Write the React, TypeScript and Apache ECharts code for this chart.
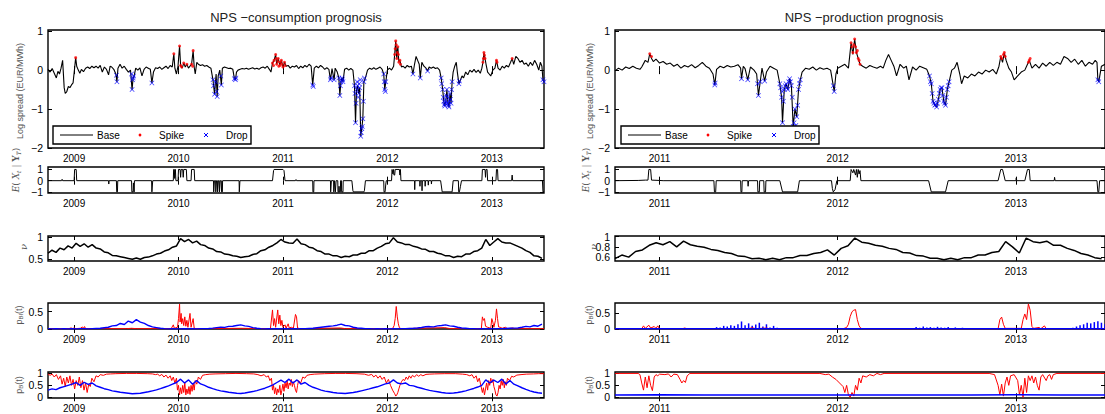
import { useEffect, useRef } from "react";
import * as echarts from "echarts";

// ---------------- NPS – consumption prognosis (left column) ----------------
const consYears = [2009, 2010, 2011, 2012, 2013];

// log spread, base regime path [year, value]
const consBase = [
  [2008.75, 0.02], [2008.77, -0.05], [2008.79, 0.04], [2008.81, -0.08], [2008.83, -0.2], [2008.845, -0.03],
  [2008.86, -0.1], [2008.875, 0.05], [2008.89, 0.25], [2008.905, -0.45], [2008.915, -0.6], [2008.93, -0.55],
  [2008.945, -0.42], [2008.96, -0.45], [2008.975, -0.38], [2008.99, -0.33], [2009.005, 0.05], [2009.015, 0.32],
  [2009.025, 0.1], [2009.04, 0.0], [2009.055, -0.08], [2009.07, 0.02], [2009.09, -0.04], [2009.11, 0.05],
  [2009.13, 0.08], [2009.15, 0.04], [2009.17, 0.1], [2009.19, 0.06], [2009.21, 0.1], [2009.23, 0.05],
  [2009.25, 0.12], [2009.27, -0.05], [2009.29, 0.08], [2009.31, 0.02], [2009.33, -0.12], [2009.345, 0.1],
  [2009.36, 0.08], [2009.38, 0.02], [2009.4, -0.1], [2009.41, -0.3], [2009.42, 0.05], [2009.44, 0.15],
  [2009.46, 0.05], [2009.48, 0.1], [2009.5, 0.02], [2009.52, -0.05], [2009.54, 0.0], [2009.555, -0.5],
  [2009.565, -0.2], [2009.575, -0.15], [2009.59, 0.05], [2009.61, 0.0], [2009.63, 0.06], [2009.65, -0.15],
  [2009.67, 0.02], [2009.69, 0.08], [2009.71, 0.05], [2009.73, 0.02], [2009.745, -0.33], [2009.76, -0.05],
  [2009.78, 0.06], [2009.8, 0.04], [2009.82, 0.08], [2009.84, 0.02], [2009.86, 0.06], [2009.88, 0.1],
  [2009.9, 0.04], [2009.92, 0.12], [2009.94, 0.08], [2009.955, 0.42], [2009.965, 0.05], [2009.98, -0.1],
  [2009.995, 0.1], [2010.01, 0.62], [2010.02, 0.12], [2010.035, 0.05], [2010.05, 0.18], [2010.065, 0.08],
  [2010.08, 0.15], [2010.095, 0.05], [2010.11, 0.1], [2010.125, 0.15], [2010.14, 0.5], [2010.15, 0.08],
  [2010.16, -0.1], [2010.175, 0.2], [2010.19, 0.15], [2010.21, 0.12], [2010.23, 0.14], [2010.25, 0.1],
  [2010.27, 0.12], [2010.29, 0.08], [2010.31, 0.05], [2010.33, -0.25], [2010.345, -0.62], [2010.36, -0.1],
  [2010.37, -0.68], [2010.38, -0.15], [2010.395, 0.0], [2010.41, -0.38], [2010.42, 0.05], [2010.44, 0.08],
  [2010.46, 0.06], [2010.48, 0.04], [2010.5, 0.05], [2010.52, 0.02], [2010.535, -0.22], [2010.545, -0.25],
  [2010.555, -0.05], [2010.57, 0.0], [2010.59, 0.02], [2010.61, 0.04], [2010.63, 0.03], [2010.65, 0.05],
  [2010.67, 0.02], [2010.69, 0.04], [2010.71, 0.06], [2010.73, 0.03], [2010.75, 0.05], [2010.77, 0.02],
  [2010.79, 0.06], [2010.81, 0.08], [2010.83, 0.05], [2010.85, 0.1], [2010.87, 0.02], [2010.885, -0.05],
  [2010.9, 0.18], [2010.915, 0.25], [2010.93, 0.4], [2010.94, 0.15], [2010.955, 0.3], [2010.97, 0.12],
  [2010.985, 0.25], [2011.0, 0.08], [2011.015, 0.2], [2011.03, 0.1], [2011.05, 0.12], [2011.07, 0.05],
  [2011.09, 0.1], [2011.11, 0.08], [2011.13, 0.12], [2011.15, 0.04], [2011.17, 0.1], [2011.19, 0.06],
  [2011.21, 0.12], [2011.23, 0.08], [2011.25, 0.15], [2011.27, 0.1], [2011.285, -0.38], [2011.3, 0.05],
  [2011.32, 0.1], [2011.34, 0.06], [2011.36, 0.12], [2011.38, 0.08], [2011.4, 0.02], [2011.42, 0.06],
  [2011.44, 0.02], [2011.455, -0.25], [2011.47, 0.04], [2011.49, -0.25], [2011.5, 0.05], [2011.52, -0.05],
  [2011.535, -0.2], [2011.545, -0.65], [2011.555, -0.3], [2011.565, -0.2], [2011.575, -0.3], [2011.59, 0.02],
  [2011.61, 0.05], [2011.63, 0.0], [2011.65, 0.04], [2011.67, 0.0], [2011.685, -0.4], [2011.695, -1.35],
  [2011.705, -0.5], [2011.715, -0.4], [2011.725, -0.6], [2011.735, -0.45], [2011.745, -1.7], [2011.755, -1.5],
  [2011.765, -1.25], [2011.775, -0.3], [2011.79, -0.2], [2011.81, 0.0], [2011.83, 0.05], [2011.85, 0.02],
  [2011.87, 0.06], [2011.89, 0.02], [2011.91, 0.05], [2011.93, 0.08], [2011.95, 0.02], [2011.965, -0.1],
  [2011.975, -0.5], [2011.985, -0.3], [2012.0, 0.0], [2012.02, 0.05], [2012.04, 0.0], [2012.06, 0.1],
  [2012.07, 0.4], [2012.08, 0.75], [2012.09, 0.3], [2012.1, 0.6], [2012.11, 0.2], [2012.12, 0.25],
  [2012.135, 0.08], [2012.15, 0.1], [2012.17, 0.05], [2012.19, 0.12], [2012.21, 0.08], [2012.23, 0.1],
  [2012.245, -0.1], [2012.26, 0.15], [2012.275, 0.35], [2012.29, 0.25], [2012.305, 0.15], [2012.315, -0.2],
  [2012.33, 0.2], [2012.35, 0.1], [2012.37, 0.05], [2012.385, -0.02], [2012.4, 0.08], [2012.42, 0.05],
  [2012.44, 0.08], [2012.46, 0.04], [2012.48, 0.06], [2012.5, 0.0], [2012.515, -0.2], [2012.53, -0.5],
  [2012.54, -0.8], [2012.55, -0.92], [2012.56, -0.8], [2012.57, -0.5], [2012.58, -0.85], [2012.59, -0.95],
  [2012.6, -0.6], [2012.61, -0.85], [2012.62, -0.3], [2012.63, -0.05], [2012.645, 0.1], [2012.66, 0.2],
  [2012.67, -0.05], [2012.685, -0.35], [2012.7, -0.25], [2012.715, -0.15], [2012.73, -0.2], [2012.75, -0.05],
  [2012.77, -0.12], [2012.79, 0.0], [2012.81, -0.05], [2012.83, 0.02], [2012.85, -0.06], [2012.87, 0.0],
  [2012.89, -0.08], [2012.905, 0.05], [2012.915, 0.2], [2012.925, 0.45], [2012.935, 0.3], [2012.945, 0.15],
  [2012.96, -0.05], [2012.975, -0.1], [2012.99, -0.15], [2013.01, 0.0], [2013.03, 0.05], [2013.045, 0.25],
  [2013.06, 0.05], [2013.08, 0.0], [2013.1, 0.1], [2013.12, 0.05], [2013.14, 0.12], [2013.16, 0.08],
  [2013.18, 0.2], [2013.195, 0.3], [2013.21, 0.15], [2013.23, 0.35], [2013.25, 0.3], [2013.27, 0.2],
  [2013.29, 0.25], [2013.31, 0.15], [2013.33, 0.18], [2013.35, 0.1], [2013.37, 0.2], [2013.39, 0.12],
  [2013.41, 0.25], [2013.43, 0.15], [2013.45, 0.0], [2013.465, 0.2], [2013.48, 0.1], [2013.49, -0.25],
  [2013.5, -0.3],
];

const consSpikes = [
  [2009.015, 0.32], [2009.955, 0.42], [2010.01, 0.62], [2010.02, 0.12], [2010.03, 0.08], [2010.05, 0.18],
  [2010.08, 0.15], [2010.125, 0.15], [2010.135, 0.1], [2010.14, 0.5], [2010.9, 0.18], [2010.91, 0.12],
  [2010.915, 0.25], [2010.93, 0.4], [2010.935, 0.3], [2010.94, 0.15], [2010.95, 0.22], [2010.955, 0.3],
  [2010.96, 0.1], [2010.97, 0.12], [2010.975, 0.2], [2010.985, 0.25], [2010.99, 0.15], [2011.0, 0.08],
  [2011.015, 0.2], [2011.02, 0.12], [2012.07, 0.4], [2012.075, 0.55], [2012.08, 0.75], [2012.085, 0.65],
  [2012.09, 0.3], [2012.095, 0.45], [2012.1, 0.6], [2012.105, 0.4], [2012.11, 0.2], [2012.12, 0.25],
  [2012.125, 0.15], [2012.915, 0.2], [2012.92, 0.3], [2012.925, 0.45], [2012.93, 0.38], [2012.935, 0.3],
  [2013.045, 0.25], [2013.05, 0.2], [2013.195, 0.3],
];

const consDrops = [
  [2009.405, -0.13], [2009.41, -0.3], [2009.55, -0.1], [2009.555, -0.5], [2009.56, -0.25], [2009.565, -0.2],
  [2009.57, -0.15], [2009.745, -0.33], [2010.33, -0.25], [2010.335, -0.4], [2010.345, -0.62], [2010.355, -0.3],
  [2010.365, -0.55], [2010.37, -0.68], [2010.405, -0.15], [2010.41, -0.38], [2010.535, -0.22], [2010.545, -0.25],
  [2010.55, -0.2], [2011.285, -0.38], [2011.29, -0.42], [2011.455, -0.25], [2011.46, -0.2], [2011.49, -0.25],
  [2011.535, -0.2], [2011.545, -0.65], [2011.55, -0.4], [2011.555, -0.3], [2011.565, -0.2], [2011.57, -0.25],
  [2011.575, -0.3], [2011.685, -0.4], [2011.69, -0.6], [2011.695, -1.35], [2011.7, -0.85], [2011.705, -0.5],
  [2011.71, -0.3], [2011.715, -0.4], [2011.72, -0.7], [2011.725, -0.6], [2011.73, -0.35], [2011.735, -0.45],
  [2011.74, -0.25], [2011.745, -1.7], [2011.75, -1.6], [2011.755, -1.5], [2011.76, -1.45], [2011.765, -1.25],
  [2011.77, -0.8], [2011.775, -0.3], [2011.78, -0.2], [2011.965, -0.1], [2011.97, -0.3], [2011.975, -0.5],
  [2011.98, -0.55], [2011.985, -0.3], [2012.245, -0.1], [2012.315, -0.2], [2012.385, -0.02], [2012.515, -0.2],
  [2012.52, -0.35], [2012.53, -0.5], [2012.535, -0.7], [2012.54, -0.8], [2012.545, -0.88], [2012.55, -0.92],
  [2012.555, -0.85], [2012.56, -0.8], [2012.565, -0.65], [2012.57, -0.5], [2012.575, -0.7], [2012.58, -0.85],
  [2012.585, -0.9], [2012.59, -0.95], [2012.595, -0.8], [2012.6, -0.6], [2012.605, -0.75], [2012.61, -0.85],
  [2012.615, -0.5], [2012.62, -0.3], [2012.685, -0.35], [2012.69, -0.28], [2013.49, -0.25], [2013.5, -0.3],
];

// smoothed regime indicator E(X_t | Y_T)
const consState = [
  [2008.75, 0], [2008.88, 0], [2008.885, 0.12], [2008.89, 0], [2009.0, 0], [2009.005, 1], [2009.02, 1], [2009.025, 0],
  [2009.33, 0], [2009.332, -0.3], [2009.335, 0],
  [2009.405, 0], [2009.408, -1], [2009.415, -1], [2009.418, 0],
  [2009.55, 0], [2009.553, -1], [2009.565, -1], [2009.568, -0.2], [2009.575, -1], [2009.578, 0],
  [2009.742, 0], [2009.745, -1], [2009.75, -1], [2009.753, 0],
  [2009.95, 0], [2009.953, 1], [2009.96, 1], [2009.963, 0.2], [2009.97, 1], [2009.975, 0],
  [2009.995, 0], [2010.0, 1], [2010.015, 1], [2010.02, 0.3], [2010.025, 1], [2010.04, 1], [2010.045, 0.3],
  [2010.05, 1], [2010.075, 1], [2010.08, 0],
  [2010.12, 0], [2010.125, 1], [2010.15, 1], [2010.155, 0],
  [2010.335, 0], [2010.337, -1], [2010.342, -1], [2010.344, 0],
  [2010.355, 0], [2010.357, -1], [2010.362, -1], [2010.364, 0],
  [2010.372, 0], [2010.374, -1], [2010.38, -1], [2010.382, 0],
  [2010.39, 0], [2010.392, -1], [2010.398, -1], [2010.4, 0],
  [2010.41, 0], [2010.412, -1], [2010.42, -1], [2010.422, 0],
  [2010.58, 0], [2010.582, -1], [2010.586, -1], [2010.588, 0],
  [2010.9, 0], [2010.91, 0.9], [2010.915, 1], [2011.0, 1], [2011.01, 0.9], [2011.02, 0],
  [2011.12, 0], [2011.125, 0.1], [2011.13, 0],
  [2011.285, 0], [2011.287, -1], [2011.295, -1], [2011.297, 0],
  [2011.455, 0], [2011.457, -1], [2011.462, -1], [2011.464, 0],
  [2011.485, 0], [2011.487, -1], [2011.492, -1], [2011.494, 0],
  [2011.5, 0], [2011.502, -1], [2011.507, -1], [2011.509, 0],
  [2011.525, 0], [2011.527, -1], [2011.535, -1], [2011.537, -0.5], [2011.54, -1], [2011.55, -1], [2011.552, 0],
  [2011.56, 0], [2011.562, -1], [2011.575, -1], [2011.577, 0],
  [2011.66, 0], [2011.67, -0.9], [2011.675, -1], [2011.775, -1], [2011.78, -0.9], [2011.79, 0],
  [2011.965, 0], [2011.968, -1], [2011.978, -1], [2011.985, -0.3], [2011.99, 0],
  [2012.04, 0], [2012.045, 1], [2012.05, 1], [2012.053, 0.6], [2012.06, 1], [2012.063, 0.5], [2012.07, 0.5],
  [2012.075, 1], [2012.115, 1], [2012.12, 0.5], [2012.125, 1], [2012.13, 0],
  [2012.26, 0], [2012.262, -0.8], [2012.265, 0],
  [2012.31, 0], [2012.312, -0.5], [2012.315, 0],
  [2012.33, 0], [2012.332, -0.9], [2012.335, 0],
  [2012.36, 0], [2012.362, -0.5], [2012.365, 0],
  [2012.39, 0], [2012.392, -0.4], [2012.395, 0],
  [2012.42, 0], [2012.422, -0.3], [2012.425, 0],
  [2012.51, 0], [2012.525, -1], [2012.62, -1], [2012.63, 0],
  [2012.68, 0], [2012.683, -1], [2012.69, -1], [2012.7, -0.5], [2012.71, 0],
  [2012.905, 0], [2012.91, 1], [2012.935, 1], [2012.94, 0.3], [2012.945, 1], [2012.955, 1], [2012.96, 0],
  [2013.04, 0], [2013.045, 1], [2013.055, 1], [2013.06, 0],
  [2013.19, 0], [2013.195, 0.5], [2013.2, 0],
  [2013.485, 0], [2013.49, -1], [2013.5, -1],
];

// fortnightly samples starting at 2008.75
const consNu = [
  0.63, 0.7, 0.65, 0.75, 0.71, 0.8,
  0.75, 0.86, 0.79, 0.85, 0.77, 0.83, 0.75,
  0.73, 0.66, 0.64, 0.58, 0.57, 0.55, 0.53,
  0.51, 0.49, 0.52, 0.49, 0.53, 0.54,
  0.57, 0.61, 0.63, 0.68, 0.71, 0.77, 0.8,
  0.97, 0.9, 0.95, 0.87, 0.91, 0.83,
  0.81, 0.75, 0.73, 0.67, 0.66, 0.61, 0.6,
  0.57, 0.56, 0.53, 0.55, 0.56, 0.6,
  0.62, 0.69, 0.71, 0.77, 0.81, 0.87, 0.95,
  0.89, 0.87, 0.86, 0.96, 0.85, 0.83,
  0.77, 0.75, 0.69, 0.67, 0.61, 0.61, 0.57,
  0.57, 0.53, 0.56, 0.55, 0.59, 0.59,
  0.63, 0.63, 0.69, 0.69, 0.75, 0.79, 0.85,
  0.87, 0.99, 0.89, 0.87, 0.83, 0.83,
  0.79, 0.77, 0.73, 0.72, 0.67, 0.67, 0.63,
  0.61, 0.57, 0.57, 0.53, 0.56, 0.55,
  0.61, 0.61, 0.67, 0.69, 0.75, 0.95, 0.81,
  0.89, 0.97, 0.89, 0.87, 0.87, 0.83,
  0.79, 0.75, 0.69, 0.65, 0.57, 0.56, 0.51,
];

// p_BI(t): spike probability (red) [year, value]
const consProbSpike = [
  [2008.75, 0.01], [2008.95, 0.01], [2008.97, 0.03], [2008.99, 0.01], [2009.0, 0.04], [2009.01, 0.01],
  [2009.06, 0.02], [2009.08, 0.06], [2009.09, 0.02], [2009.1, 0.07], [2009.11, 0.01], [2009.5, 0.01],
  [2009.55, 0.02], [2009.6, 0.01], [2009.93, 0.01], [2009.95, 0.12], [2009.96, 0.02], [2009.99, 0.05],
  [2010.0, 0.3], [2010.01, 0.72], [2010.015, 0.2], [2010.025, 0.45], [2010.03, 0.15], [2010.04, 0.3],
  [2010.05, 0.1], [2010.06, 0.35], [2010.07, 0.08], [2010.08, 0.25], [2010.09, 0.05], [2010.11, 0.45],
  [2010.12, 0.05], [2010.14, 0.3], [2010.15, 0.02], [2010.17, 0.01], [2010.6, 0.02], [2010.88, 0.01],
  [2010.9, 0.55], [2010.91, 0.1], [2010.92, 0.3], [2010.93, 0.05], [2010.95, 0.55], [2010.96, 0.15],
  [2010.97, 0.4], [2010.98, 0.1], [2010.99, 0.25], [2011.0, 0.05], [2011.02, 0.12], [2011.03, 0.02],
  [2011.05, 0.15], [2011.06, 0.03], [2011.08, 0.05], [2011.1, 0.02], [2011.12, 0.42], [2011.13, 0.35],
  [2011.14, 0.03], [2011.16, 0.01], [2011.55, 0.03], [2011.6, 0.01], [2012.05, 0.01], [2012.065, 0.1],
  [2012.075, 0.3], [2012.085, 0.65], [2012.095, 0.35], [2012.105, 0.15], [2012.115, 0.04], [2012.13, 0.01],
  [2012.55, 0.04], [2012.6, 0.01], [2012.9, 0.01], [2012.91, 0.35], [2012.92, 0.25], [2012.93, 0.3],
  [2012.94, 0.08], [2012.96, 0.05], [2012.99, 0.02], [2013.0, 0.3], [2013.01, 0.2], [2013.02, 0.05],
  [2013.035, 0.25], [2013.045, 0.58], [2013.055, 0.3], [2013.065, 0.06], [2013.08, 0.05], [2013.1, 0.02],
  [2013.13, 0.05], [2013.15, 0.01], [2013.2, 0.03], [2013.22, 0.01], [2013.5, 0.01],
];

// p_BI(t): drop probability (blue), fortnightly from 2008.75
const consProbDrop = [
  0.01, 0.005, 0.01, 0.005, 0.01, 0.005,
  0.01, 0.005, 0.01, 0.01, 0.005, 0.01, 0.015,
  0.02, 0.035, 0.05, 0.09, 0.1, 0.16, 0.13,
  0.23, 0.18, 0.27, 0.2, 0.16, 0.1,
  0.06, 0.04, 0.02, 0.01, 0.005, 0.01, 0.005,
  0.005, 0.01, 0.005, 0.01, 0.005, 0.01,
  0.01, 0.015, 0.025, 0.04, 0.055, 0.045, 0.075,
  0.08, 0.1, 0.12, 0.09, 0.075, 0.04,
  0.02, 0.01, 0.005, 0.01, 0.005, 0.01, 0.005,
  0.01, 0.005, 0.01, 0.005, 0.01, 0.01,
  0.015, 0.02, 0.035, 0.05, 0.065, 0.08, 0.09,
  0.11, 0.14, 0.1, 0.09, 0.05, 0.03,
  0.02, 0.01, 0.01, 0.005, 0.01, 0.005, 0.01,
  0.005, 0.01, 0.005, 0.01, 0.01, 0.015,
  0.02, 0.03, 0.045, 0.065, 0.07, 0.06, 0.09,
  0.1, 0.12, 0.09, 0.08, 0.05, 0.03,
  0.02, 0.01, 0.01, 0.005, 0.01, 0.005, 0.01,
  0.005, 0.01, 0.01, 0.015, 0.02, 0.025,
  0.03, 0.05, 0.075, 0.06, 0.1, 0.08, 0.14,
];

// p_B(t): staying in base (red) [year, value]
const consBaseStay = [
  [2008.75, 0.98], [2008.77, 0.92], [2008.79, 0.97], [2008.81, 0.85], [2008.83, 0.95], [2008.85, 0.75],
  [2008.87, 0.9], [2008.885, 0.55], [2008.9, 0.8], [2008.915, 0.45], [2008.93, 0.85], [2008.945, 0.6],
  [2008.96, 0.9], [2008.975, 0.5], [2008.99, 0.75], [2009.005, 0.35], [2009.02, 0.7], [2009.035, 0.5],
  [2009.05, 0.85], [2009.065, 0.4], [2009.08, 0.7], [2009.095, 0.3], [2009.11, 0.6], [2009.125, 0.2],
  [2009.14, 0.55], [2009.155, 0.45], [2009.17, 0.8], [2009.19, 0.65], [2009.21, 0.9], [2009.23, 0.85],
  [2009.25, 0.95], [2009.28, 0.92], [2009.31, 0.97], [2009.35, 0.98], [2009.4, 0.99], [2009.5, 1.0],
  [2009.6, 1.0], [2009.7, 0.99], [2009.75, 0.98], [2009.78, 0.95], [2009.8, 0.97], [2009.82, 0.9],
  [2009.84, 0.96], [2009.86, 0.85], [2009.88, 0.93], [2009.9, 0.8], [2009.92, 0.9], [2009.935, 0.7],
  [2009.95, 0.85], [2009.965, 0.6], [2009.98, 0.8], [2009.99, 0.3], [2010.0, 0.5], [2010.01, 0.1],
  [2010.02, 0.4], [2010.03, 0.15], [2010.04, 0.5], [2010.05, 0.2], [2010.06, 0.6], [2010.07, 0.1],
  [2010.08, 0.35], [2010.09, 0.15], [2010.1, 0.45], [2010.11, 0.12], [2010.12, 0.5], [2010.13, 0.25],
  [2010.14, 0.6], [2010.15, 0.3], [2010.16, 0.7], [2010.175, 0.55], [2010.19, 0.85], [2010.21, 0.75],
  [2010.23, 0.92], [2010.26, 0.95], [2010.3, 0.97], [2010.35, 0.98], [2010.45, 0.99], [2010.55, 1.0],
  [2010.65, 0.99], [2010.72, 0.98], [2010.76, 0.95], [2010.79, 0.9], [2010.82, 0.95], [2010.84, 0.85],
  [2010.86, 0.9], [2010.875, 0.7], [2010.89, 0.8], [2010.9, 0.3], [2010.91, 0.5], [2010.92, 0.15],
  [2010.93, 0.4], [2010.94, 0.1], [2010.95, 0.35], [2010.96, 0.2], [2010.97, 0.5], [2010.98, 0.1],
  [2010.99, 0.3], [2011.0, 0.55], [2011.01, 0.25], [2011.02, 0.6], [2011.03, 0.4], [2011.04, 0.7],
  [2011.05, 0.35], [2011.06, 0.6], [2011.07, 0.5], [2011.08, 0.75], [2011.09, 0.45], [2011.1, 0.65],
  [2011.11, 0.5], [2011.12, 0.3], [2011.13, 0.2], [2011.14, 0.5], [2011.15, 0.7], [2011.17, 0.6],
  [2011.19, 0.85], [2011.21, 0.8], [2011.23, 0.92], [2011.26, 0.95], [2011.3, 0.97], [2011.4, 0.99],
  [2011.5, 1.0], [2011.6, 1.0], [2011.7, 0.99], [2011.78, 0.97], [2011.82, 0.92], [2011.85, 0.96],
  [2011.87, 0.85], [2011.89, 0.93], [2011.91, 0.8], [2011.93, 0.9], [2011.95, 0.75], [2011.97, 0.85],
  [2011.99, 0.6], [2012.01, 0.75], [2012.03, 0.5], [2012.05, 0.3], [2012.07, 0.15], [2012.08, 0.05],
  [2012.09, 0.1], [2012.1, 0.2], [2012.11, 0.35], [2012.12, 0.5], [2012.135, 0.65], [2012.15, 0.75],
  [2012.165, 0.7], [2012.18, 0.85], [2012.195, 0.75], [2012.21, 0.9], [2012.225, 0.8], [2012.24, 0.92],
  [2012.26, 0.85], [2012.28, 0.95], [2012.3, 0.88], [2012.32, 0.95], [2012.34, 0.9], [2012.37, 0.96],
  [2012.4, 0.97], [2012.45, 0.98], [2012.55, 0.99], [2012.65, 0.99], [2012.72, 0.97], [2012.76, 0.95],
  [2012.79, 0.9], [2012.81, 0.95], [2012.83, 0.8], [2012.85, 0.9], [2012.865, 0.65], [2012.88, 0.8],
  [2012.895, 0.5], [2012.91, 0.2], [2012.92, 0.4], [2012.93, 0.1], [2012.94, 0.35], [2012.95, 0.6],
  [2012.96, 0.3], [2012.97, 0.7], [2012.98, 0.5], [2012.99, 0.8], [2013.0, 0.6], [2013.01, 0.75],
  [2013.02, 0.45], [2013.03, 0.3], [2013.04, 0.1], [2013.05, 0.05], [2013.06, 0.2], [2013.07, 0.5],
  [2013.08, 0.35], [2013.09, 0.7], [2013.1, 0.5], [2013.11, 0.75], [2013.12, 0.4], [2013.13, 0.65],
  [2013.14, 0.5], [2013.15, 0.8], [2013.17, 0.7], [2013.19, 0.88], [2013.21, 0.85], [2013.24, 0.93],
  [2013.28, 0.95], [2013.33, 0.97], [2013.4, 0.98], [2013.45, 0.99], [2013.5, 0.99],
];

// p_B(t): return to base (blue), fortnightly from 2008.75
const consBaseReturn = [
  0.3, 0.35, 0.32, 0.4, 0.45, 0.5,
  0.55, 0.62, 0.5, 0.63, 0.54, 0.6, 0.48,
  0.42, 0.36, 0.32, 0.27, 0.24, 0.21, 0.19,
  0.17, 0.15, 0.16, 0.17, 0.2, 0.23,
  0.27, 0.31, 0.36, 0.42, 0.48, 0.55, 0.62,
  0.76, 0.6, 0.73, 0.55, 0.7, 0.56,
  0.5, 0.42, 0.36, 0.31, 0.27, 0.24, 0.21,
  0.19, 0.17, 0.16, 0.18, 0.21, 0.24,
  0.28, 0.33, 0.38, 0.45, 0.52, 0.62, 0.72,
  0.62, 0.76, 0.6, 0.73, 0.55, 0.62,
  0.5, 0.42, 0.36, 0.3, 0.26, 0.23, 0.2,
  0.18, 0.17, 0.16, 0.18, 0.2, 0.23,
  0.27, 0.31, 0.35, 0.4, 0.44, 0.5, 0.56,
  0.6, 0.73, 0.6, 0.56, 0.6, 0.5,
  0.48, 0.42, 0.38, 0.33, 0.29, 0.26, 0.23,
  0.2, 0.18, 0.17, 0.18, 0.2, 0.23,
  0.27, 0.32, 0.37, 0.43, 0.5, 0.73, 0.6,
  0.72, 0.62, 0.76, 0.56, 0.7, 0.55,
  0.48, 0.4, 0.33, 0.27, 0.22, 0.19, 0.17,
];

// ---------------- NPS – production prognosis (right column) ----------------
const prodYears = [2011, 2012, 2013];

const prodBase = [
  [2010.75, -0.02], [2010.77, 0.05], [2010.79, 0.0], [2010.81, 0.08], [2010.83, 0.04], [2010.85, 0.1],
  [2010.87, 0.05], [2010.89, 0.02], [2010.9, 0.08], [2010.92, 0.25], [2010.935, 0.2], [2010.945, 0.42],
  [2010.955, 0.3], [2010.965, 0.22], [2010.98, 0.28], [2011.0, 0.18], [2011.02, 0.22], [2011.04, 0.15],
  [2011.06, 0.18], [2011.08, 0.1], [2011.1, 0.15], [2011.12, 0.05], [2011.14, 0.12], [2011.16, 0.08],
  [2011.18, 0.14], [2011.2, 0.06], [2011.22, 0.12], [2011.24, 0.2], [2011.26, 0.1], [2011.28, 0.05],
  [2011.3, -0.1], [2011.31, -0.38], [2011.32, 0.02], [2011.34, 0.1], [2011.36, 0.06], [2011.38, 0.12],
  [2011.4, 0.08], [2011.42, 0.1], [2011.44, 0.14], [2011.455, 0.05], [2011.46, -0.22], [2011.47, 0.1],
  [2011.48, 0.04], [2011.495, -0.25], [2011.51, 0.08], [2011.53, 0.0], [2011.545, -0.1], [2011.555, -0.65],
  [2011.565, -0.3], [2011.575, 0.05], [2011.59, -0.28], [2011.6, -0.05], [2011.62, 0.1], [2011.64, 0.05],
  [2011.66, 0.0], [2011.675, -0.35], [2011.685, -0.7], [2011.69, -1.35], [2011.7, -0.5], [2011.71, -0.35],
  [2011.72, -0.5], [2011.73, -0.22], [2011.74, -0.4], [2011.75, -1.45], [2011.76, -1.0], [2011.77, -1.2],
  [2011.78, -0.5], [2011.79, -0.25], [2011.8, -0.05], [2011.82, 0.05], [2011.84, 0.02], [2011.86, 0.08],
  [2011.88, 0.0], [2011.9, 0.06], [2011.92, 0.02], [2011.94, 0.05], [2011.96, 0.0], [2011.975, -0.4],
  [2011.98, -0.55], [2011.99, -0.1], [2012.0, 0.05], [2012.02, 0.1], [2012.04, 0.15], [2012.06, 0.05],
  [2012.075, 0.7], [2012.085, 0.4], [2012.095, 0.8], [2012.105, 0.45], [2012.115, 0.3], [2012.125, 0.15],
  [2012.14, 0.1], [2012.16, 0.05], [2012.18, 0.12], [2012.2, 0.08], [2012.22, 0.05], [2012.24, 0.1],
  [2012.255, 0.05], [2012.27, 0.25], [2012.285, 0.4], [2012.3, 0.25], [2012.315, 0.1], [2012.33, -0.15],
  [2012.35, 0.15], [2012.37, 0.05], [2012.385, 0.1], [2012.4, -0.25], [2012.42, 0.08], [2012.44, 0.0],
  [2012.46, 0.1], [2012.48, 0.06], [2012.5, 0.02], [2012.515, -0.15], [2012.525, -0.35], [2012.535, -0.8],
  [2012.545, -0.9], [2012.555, -0.95], [2012.565, -0.75], [2012.575, -0.5], [2012.585, -0.45], [2012.595, -0.8],
  [2012.605, -0.9], [2012.615, -0.5], [2012.625, -0.3], [2012.64, 0.0], [2012.655, 0.05], [2012.67, 0.2],
  [2012.685, -0.1], [2012.695, -0.35], [2012.71, -0.15], [2012.73, -0.2], [2012.75, -0.1], [2012.77, -0.15],
  [2012.79, -0.05], [2012.81, -0.1], [2012.83, 0.0], [2012.85, -0.05], [2012.87, 0.02], [2012.89, -0.1],
  [2012.905, 0.1], [2012.915, 0.35], [2012.925, 0.2], [2012.935, 0.45], [2012.945, 0.25], [2012.96, 0.05],
  [2012.975, -0.05], [2012.99, -0.25], [2013.01, -0.15], [2013.03, -0.05], [2013.05, 0.0], [2013.065, 0.15],
  [2013.075, 0.25], [2013.09, 0.05], [2013.11, 0.15], [2013.13, 0.05], [2013.15, 0.18], [2013.17, 0.1],
  [2013.19, 0.2], [2013.21, 0.12], [2013.23, 0.2], [2013.25, 0.15], [2013.27, 0.35], [2013.29, 0.3],
  [2013.31, 0.2], [2013.33, 0.28], [2013.35, 0.15], [2013.37, 0.25], [2013.39, 0.1], [2013.41, 0.2],
  [2013.43, 0.15], [2013.445, 0.25], [2013.455, 0.2], [2013.46, -0.25], [2013.465, -0.3], [2013.48, 0.1],
  [2013.5, 0.15],
];

const prodSpikes = [
  [2010.945, 0.42], [2010.955, 0.35], [2012.075, 0.7], [2012.08, 0.6], [2012.085, 0.45], [2012.09, 0.65],
  [2012.095, 0.8], [2012.1, 0.6], [2012.105, 0.45], [2012.11, 0.5], [2012.115, 0.3], [2012.12, 0.25],
  [2012.125, 0.15], [2012.915, 0.35], [2012.92, 0.3], [2012.93, 0.4], [2012.935, 0.45], [2012.94, 0.35],
  [2013.07, 0.2], [2013.075, 0.25], [2013.08, 0.3],
];

const prodDrops = [
  [2011.31, -0.38], [2011.312, -0.33], [2011.46, -0.22], [2011.495, -0.25], [2011.55, -0.35], [2011.555, -0.65],
  [2011.565, -0.3], [2011.59, -0.28], [2011.675, -0.35], [2011.68, -0.45], [2011.685, -0.7], [2011.688, -0.55],
  [2011.69, -1.35], [2011.695, -0.8], [2011.7, -0.5], [2011.705, -0.4], [2011.71, -0.35], [2011.715, -0.45],
  [2011.72, -0.5], [2011.725, -0.3], [2011.73, -0.22], [2011.735, -0.3], [2011.74, -0.4], [2011.745, -0.7],
  [2011.75, -1.45], [2011.755, -1.35], [2011.76, -1.0], [2011.765, -1.42], [2011.77, -1.2], [2011.775, -0.9],
  [2011.78, -0.5], [2011.785, -0.35], [2011.79, -0.25], [2011.975, -0.4], [2011.98, -0.55], [2012.515, -0.15],
  [2012.52, -0.3], [2012.525, -0.35], [2012.53, -0.6], [2012.535, -0.8], [2012.54, -0.85], [2012.545, -0.9],
  [2012.55, -0.88], [2012.555, -0.95], [2012.56, -0.85], [2012.565, -0.75], [2012.57, -0.6], [2012.575, -0.5],
  [2012.58, -0.45], [2012.585, -0.45], [2012.59, -0.65], [2012.595, -0.8], [2012.6, -0.85], [2012.605, -0.9],
  [2012.61, -0.7], [2012.615, -0.5], [2012.62, -0.4], [2012.625, -0.3], [2013.46, -0.25], [2013.465, -0.3],
];

const prodState = [
  [2010.75, 0], [2010.88, 0.02], [2010.92, 0.05], [2010.935, 0.05], [2010.94, 1], [2010.95, 1], [2010.955, 0.05],
  [2011.0, 0.02], [2011.02, 0],
  [2011.305, 0], [2011.308, -1], [2011.315, -1], [2011.318, 0],
  [2011.455, 0], [2011.457, -1], [2011.462, -1], [2011.464, 0],
  [2011.495, 0], [2011.497, -0.5], [2011.5, 0],
  [2011.55, 0], [2011.552, -1], [2011.56, -1], [2011.562, 0],
  [2011.585, 0], [2011.587, -1], [2011.595, -1], [2011.597, 0],
  [2011.675, 0], [2011.69, -1], [2011.775, -1], [2011.785, 0],
  [2011.965, 0], [2011.97, -0.7], [2011.975, -1], [2011.985, -0.8], [2011.995, 0],
  [2012.07, 0], [2012.075, 1], [2012.085, 0.7], [2012.09, 1], [2012.1, 0.5], [2012.105, 1], [2012.11, 0.3],
  [2012.115, 1], [2012.12, 0.6], [2012.125, 0.9], [2012.13, 0],
  [2012.51, 0], [2012.525, -1], [2012.605, -1], [2012.62, 0],
  [2012.9, 0], [2012.915, 1], [2012.925, 1], [2012.94, 0],
  [2013.0, 0], [2013.002, 0.25], [2013.005, 0],
  [2013.05, 0], [2013.065, 1], [2013.075, 1], [2013.08, 0],
  [2013.215, 0], [2013.217, 0.3], [2013.22, 0],
  [2013.455, 0], [2013.46, -1], [2013.465, -1], [2013.47, 0], [2013.5, 0],
];

// fortnightly samples starting at 2010.75
const prodNu = [
  0.57, 0.64, 0.6, 0.71, 0.74, 0.83,
  0.88, 0.84, 0.9, 0.8, 0.91, 0.84, 0.81,
  0.79, 0.75, 0.73, 0.69, 0.67, 0.62, 0.61,
  0.57, 0.58, 0.55, 0.58, 0.55, 0.59,
  0.59, 0.63, 0.63, 0.67, 0.69, 0.74, 0.64,
  0.77, 0.82, 0.97, 0.89, 0.87, 0.83,
  0.81, 0.77, 0.75, 0.69, 0.68, 0.63, 0.62,
  0.58, 0.58, 0.55, 0.58, 0.55, 0.59,
  0.59, 0.64, 0.64, 0.69, 0.71, 0.9, 0.8,
  0.68, 0.97, 0.9, 0.88, 0.91, 0.83,
  0.83, 0.77, 0.73, 0.67, 0.64, 0.59, 0.57,
];

const prodProbSpike = [
  [2010.75, 0.005], [2010.9, 0.005], [2010.91, 0.1], [2010.92, 0.02], [2010.94, 0.12], [2010.95, 0.03],
  [2010.97, 0.08], [2010.98, 0.02], [2010.99, 0.1], [2011.0, 0.01], [2011.13, 0.01], [2011.14, 0.03],
  [2011.16, 0.005], [2011.5, 0.01], [2011.52, 0.04], [2011.54, 0.01], [2011.6, 0.03], [2011.62, 0.005],
  [2012.03, 0.005], [2012.05, 0.05], [2012.06, 0.15], [2012.07, 0.4], [2012.08, 0.55], [2012.09, 0.6],
  [2012.1, 0.62], [2012.11, 0.3], [2012.12, 0.1], [2012.13, 0.02], [2012.15, 0.005], [2012.9, 0.005],
  [2012.91, 0.3], [2012.92, 0.38], [2012.93, 0.15], [2012.94, 0.02], [2013.03, 0.02], [2013.04, 0.3],
  [2013.05, 0.48], [2013.06, 0.3], [2013.07, 0.8], [2013.08, 0.6], [2013.09, 0.08], [2013.1, 0.02],
  [2013.13, 0.05], [2013.14, 0.01], [2013.16, 0.1], [2013.17, 0.01], [2013.5, 0.005],
];

// weekly drop-probability peaks (blue comb) and its floor
const prodProbDrop = [
  [2011.3, 0.03], [2011.32, 0.06], [2011.34, 0.05], [2011.36, 0.1], [2011.38, 0.08], [2011.4, 0.12],
  [2011.42, 0.1], [2011.44, 0.15], [2011.46, 0.24], [2011.48, 0.12], [2011.5, 0.18], [2011.52, 0.1],
  [2011.54, 0.14], [2011.56, 0.2], [2011.58, 0.08], [2011.6, 0.15], [2011.62, 0.05], [2011.64, 0.1],
  [2011.66, 0.04], [2011.68, 0.02], [2012.4, 0.03], [2012.42, 0.02], [2012.44, 0.06], [2012.46, 0.04],
  [2012.48, 0.08], [2012.5, 0.05], [2012.52, 0.06], [2012.54, 0.04], [2012.56, 0.07], [2012.58, 0.05],
  [2012.6, 0.04], [2012.62, 0.06], [2012.64, 0.03], [2012.66, 0.05], [2012.68, 0.02], [2012.7, 0.04],
  [2013.32, 0.04], [2013.34, 0.08], [2013.36, 0.12], [2013.38, 0.15], [2013.4, 0.2], [2013.42, 0.18],
  [2013.44, 0.22], [2013.46, 0.25], [2013.48, 0.2], [2013.5, 0.15],
];
const prodProbDropFloor = [[2010.75, 0.01], [2011.2, 0.008], [2012.0, 0.01], [2012.9, 0.008], [2013.5, 0.01]];

const prodBaseStay = [
  [2010.75, 1], [2010.88, 1], [2010.89, 0.95], [2010.9, 0.6], [2010.91, 0.3], [2010.92, 0.85], [2010.93, 0.4],
  [2010.94, 0.9], [2010.95, 0.5], [2010.96, 0.28], [2010.97, 0.85], [2010.98, 0.95], [2010.99, 0.9],
  [2011.0, 0.97], [2011.03, 0.95], [2011.05, 0.98], [2011.065, 0.85], [2011.08, 0.97], [2011.1, 0.95],
  [2011.115, 0.75], [2011.125, 0.6], [2011.135, 0.7], [2011.145, 0.62], [2011.155, 0.9], [2011.17, 1],
  [2011.9, 1], [2011.93, 0.95], [2011.95, 0.97], [2011.97, 0.85], [2011.99, 0.75], [2012.01, 0.6],
  [2012.03, 0.45], [2012.04, 0.2], [2012.05, 0.5], [2012.06, 0.1], [2012.07, 0.0], [2012.08, 0.2],
  [2012.09, 0.05], [2012.1, 0.5], [2012.11, 0.3], [2012.12, 0.8], [2012.13, 0.6], [2012.14, 0.9],
  [2012.16, 0.85], [2012.18, 0.95], [2012.2, 0.9], [2012.22, 1.0], [2012.24, 0.95], [2012.26, 1],
  [2012.85, 1], [2012.88, 0.95], [2012.9, 0.5], [2012.91, 0.1], [2012.92, 0.55], [2012.93, 0.05],
  [2012.94, 0.6], [2012.95, 0.85], [2012.96, 0.5], [2012.97, 0.9], [2012.99, 0.95], [2013.01, 0.7],
  [2013.02, 0.1], [2013.03, 0.5], [2013.04, 0.0], [2013.05, 0.8], [2013.06, 0.2], [2013.07, 0.9],
  [2013.08, 0.7], [2013.09, 0.9], [2013.1, 0.6], [2013.11, 0.85], [2013.12, 0.5], [2013.13, 0.3],
  [2013.14, 0.85], [2013.15, 0.95], [2013.17, 0.7], [2013.18, 0.9], [2013.19, 0.95], [2013.2, 0.75],
  [2013.21, 0.95], [2013.23, 1], [2013.5, 1],
];

const prodBaseReturn = [
  [2010.75, 0.1], [2011.0, 0.105], [2011.25, 0.095], [2011.5, 0.1], [2011.75, 0.095], [2012.0, 0.1],
  [2012.25, 0.098], [2012.5, 0.095], [2012.75, 0.1], [2013.0, 0.104], [2013.25, 0.098], [2013.5, 0.1],
];

// ---------------- layout ----------------
const FONT = "'Liberation Sans', Arial, Helvetica, sans-serif";
const SERIF = "'DejaVu Serif', 'Liberation Serif', serif";
const STEP = 1 / 26;
const RED = "#ff0000";
const BLUE = "#0000ff";
const CROSS = "path://M0,1L1,0L5,4L9,0L10,1L6,5L10,9L9,10L5,6L1,10L0,9L4,5Z";

const cols = [
  { left: 48, width: 496, xmin: 2008.75, xmax: 2013.5, years: consYears, title: "NPS \u2212consumption prognosis", labelX: 20 },
  { left: 615, width: 498, xmin: 2010.75, xmax: 2013.5, years: prodYears, title: "NPS \u2212production prognosis", labelX: 590 },
];

const rows = [
  { top: 30, height: 118 },
  { top: 167, height: 26 },
  { top: 236, height: 25 },
  { top: 303, height: 26 },
  { top: 372, height: 26 },
];

function fortnightly(start: number, values: number[]) {
  return values.map((v, i) => [start + i * STEP, v]);
}

function fmtY(v: number) {
  return v < 0 ? "\u2212" + String(Math.abs(v)) : String(v);
}

function line(data: any, color: string, width = 1) {
  return { type: "line", data, showSymbol: false, symbol: "none", lineStyle: { color, width }, silent: true, z: 2 };
}

function buildOption() {
  const grid: any[] = [];
  const xAxis: any[] = [];
  const yAxis: any[] = [];
  const series: any[] = [];
  const graphic: any[] = [];

  const tick = (custom: number[]) => ({ show: true, inside: true, length: 4, customValues: custom, lineStyle: { color: "#000", width: 1 } });
  const yLabels = (custom: number[]) => ({
    customValues: custom, margin: 5, fontSize: 10.5, color: "#000", fontFamily: FONT,
    showMinLabel: true, showMaxLabel: true, hideOverlap: false, formatter: fmtY,
  });

  // yGroups: each group of left tick labels lives on its own axis so that
  // closely spaced labels are all kept; series use the first one
  const addPanel = (col: any, row: any, ymin: number, ymax: number, yGroups: number[][], list: any[]) => {
    const gi = grid.length;
    grid.push({
      left: col.left, top: row.top, width: col.width, height: row.height,
      show: true, borderColor: "#000", borderWidth: 1.4, backgroundColor: "#fff",
    });
    const xi = xAxis.length;
    xAxis.push({
      type: "value", gridIndex: gi, min: col.xmin, max: col.xmax, position: "bottom",
      axisLine: { show: false }, splitLine: { show: false }, axisTick: tick(col.years),
      axisLabel: {
        customValues: col.years, margin: 5, fontSize: 10, color: "#000", fontFamily: FONT,
        showMinLabel: true, showMaxLabel: true, formatter: (v: number) => String(v),
      },
    });
    xAxis.push({
      type: "value", gridIndex: gi, min: col.xmin, max: col.xmax, position: "top",
      axisLine: { show: false }, splitLine: { show: false }, axisTick: tick(col.years), axisLabel: { show: false },
    });
    const yi = yAxis.length;
    yGroups.forEach((g) => {
      yAxis.push({
        type: "value", gridIndex: gi, min: ymin, max: ymax, position: "left", offset: 0,
        axisLine: { show: false }, splitLine: { show: false }, axisTick: tick(g), axisLabel: yLabels(g),
      });
    });
    const all = yGroups.flat();
    yAxis.push({
      type: "value", gridIndex: gi, min: ymin, max: ymax, position: "right",
      axisLine: { show: false }, splitLine: { show: false }, axisTick: tick(all), axisLabel: { show: false },
    });
    list.forEach((s) => series.push({ ...s, xAxisIndex: xi, yAxisIndex: yi }));
  };

  const spikeMarks = (data: any) => ({
    type: "scatter", data, symbol: "circle", symbolSize: 3, itemStyle: { color: RED }, silent: true, z: 3,
  });
  const dropMarks = (data: any) => ({
    type: "scatter", data, symbol: CROSS, symbolSize: 5, itemStyle: { color: BLUE }, silent: true, z: 3,
  });

  // left column
  const L = cols[0];
  addPanel(L, rows[0], -2, 1.03, [[-2, -1, 0, 1]], [line(consBase, "#000", 1.1), spikeMarks(consSpikes), dropMarks(consDrops)]);
  addPanel(L, rows[1], -1.1, 1.22, [[-1, 1], [0]], [line(consState, "#000")]);
  addPanel(L, rows[2], 0.45, 1.03, [[0.5, 1]], [line(fortnightly(L.xmin, consNu), "#000", 1.5)]);
  addPanel(L, rows[3], 0, 0.75, [[0, 0.5]], [line(consProbSpike, RED), line(fortnightly(L.xmin, consProbDrop), BLUE, 1.4)]);
  addPanel(L, rows[4], -0.03, 1.06, [[0, 1], [0.5]], [line(consBaseStay, RED), line(fortnightly(L.xmin, consBaseReturn), BLUE, 1.4)]);

  // right column
  const R = cols[1];
  addPanel(R, rows[0], -2, 1.03, [[-2, -1, 0, 1]], [line(prodBase, "#000", 1.1), spikeMarks(prodSpikes), dropMarks(prodDrops)]);
  addPanel(R, rows[1], -1.1, 1.22, [[-1, 1], [0]], [line(prodState, "#000")]);
  addPanel(R, rows[2], 0.525, 1.01, [[0.6, 1], [0.8]], [line(fortnightly(R.xmin, prodNu), "#000", 1.5)]);
  addPanel(R, rows[3], 0, 0.83, [[0, 0.5]], [
    line(prodProbSpike, RED),
    { type: "bar", data: prodProbDrop, barWidth: 1.5, itemStyle: { color: BLUE }, silent: true, z: 2 },
    line(prodProbDropFloor, BLUE, 1.5),
  ]);
  addPanel(R, rows[4], -0.03, 1.06, [[0, 1], [0.5]], [line(prodBaseStay, RED), line(prodBaseReturn, BLUE, 1.5)]);

  // titles, axis titles, legends
  const grey = "#555";
  const rot = Math.PI / 2;
  cols.forEach((c, k) => {
    graphic.push({
      type: "text", x: c.left + c.width / 2, y: 17, z: 100,
      style: { text: c.title, font: `13px ${FONT}`, fill: "#222", align: "center", verticalAlign: "middle" },
    });
    const lx = c.labelX;
    graphic.push({
      type: "text", x: lx, y: 91, rotation: rot, z: 100,
      style: { text: "Log spread (EUR/MWh)", font: `9px ${FONT}`, fill: grey, align: "center", verticalAlign: "middle" },
    });
    graphic.push({
      type: "text", x: lx - 4, y: 170, rotation: rot, z: 100,
      style: {
        text: "{i|E}{n|(}{i| X}{s|t}{n| | }{b|Y}{s|T}{n|)}",
        align: "center", verticalAlign: "middle",
        rich: {
          i: { fontFamily: SERIF, fontStyle: "italic", fontSize: 9, fill: grey },
          n: { fontFamily: SERIF, fontSize: 9, fill: grey },
          b: { fontFamily: SERIF, fontWeight: "bold", fontSize: 9, fill: grey },
          s: { fontFamily: SERIF, fontStyle: "italic", fontSize: 6, fill: grey, padding: [4, 0, 0, 0] },
        },
      },
    });
    graphic.push({
      type: "text", x: lx + 3, y: 247, rotation: rot, z: 100,
      style: { text: "\u03bd", font: `italic 10px ${SERIF}`, fill: grey, align: "center", verticalAlign: "middle" },
    });
    const pLabel = (y: number, sub: string) => ({
      type: "text", x: lx - 1, y, rotation: rot, z: 100,
      style: {
        text: `{p|p}{s|${sub}}{p|(t)}`, align: "center", verticalAlign: "middle",
        rich: {
          p: { fontFamily: FONT, fontSize: 9, fill: grey },
          s: { fontFamily: FONT, fontSize: 6, fill: grey, padding: [4, 0, 0, 0] },
        },
      },
    });
    graphic.push(pLabel(315, "BI"));
    graphic.push(pLabel(385, "B"));

    // legend box inside the top panel
    const x0 = k === 0 ? 53 : 621;
    const y0 = 126;
    graphic.push({ type: "rect", z: 100, shape: { x: x0, y: y0, width: 198, height: 18 }, style: { fill: "#fff", stroke: "#000", lineWidth: 1.4 } });
    graphic.push({ type: "line", z: 101, shape: { x1: x0 + 7, y1: y0 + 9, x2: x0 + 40, y2: y0 + 9 }, style: { stroke: "#000", lineWidth: 1 } });
    graphic.push({ type: "text", z: 101, x: x0 + 44, y: y0 + 9.5, style: { text: "Base", font: `10px ${FONT}`, fill: "#000", verticalAlign: "middle" } });
    graphic.push({ type: "circle", z: 101, shape: { cx: x0 + 87, cy: y0 + 9, r: 1.4 }, style: { fill: RED } });
    graphic.push({ type: "text", z: 101, x: x0 + 106, y: y0 + 9.5, style: { text: "Spike", font: `10px ${FONT}`, fill: "#000", verticalAlign: "middle" } });
    graphic.push({ type: "line", z: 101, shape: { x1: x0 + 151, y1: y0 + 7, x2: x0 + 155, y2: y0 + 11 }, style: { stroke: BLUE, lineWidth: 1 } });
    graphic.push({ type: "line", z: 101, shape: { x1: x0 + 155, y1: y0 + 7, x2: x0 + 151, y2: y0 + 11 }, style: { stroke: BLUE, lineWidth: 1 } });
    graphic.push({ type: "text", z: 101, x: x0 + 173, y: y0 + 9.5, style: { text: "Drop", font: `10px ${FONT}`, fill: "#000", verticalAlign: "middle" } });
  });

  return {
    animation: false,
    backgroundColor: "#fff",
    grid, xAxis, yAxis, series, graphic,
  };
}

export default function App() {
  const ref = useRef<HTMLDivElement>(null);
  useEffect(() => {
    if (!ref.current) return;
    const chart = echarts.init(ref.current, undefined, { renderer: "svg" });
    chart.setOption(buildOption() as any);
    return () => chart.dispose();
  }, []);
  return <div ref={ref} style={{ position: "fixed", left: 0, top: 0, width: 1105, height: 414, background: "#fff" }} />;
}
